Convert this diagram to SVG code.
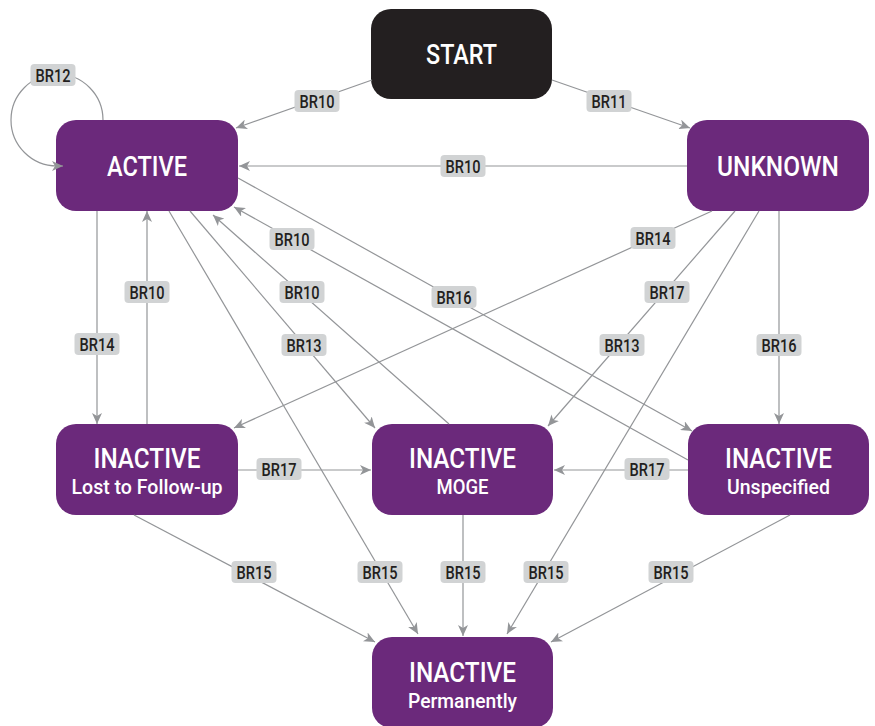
<svg xmlns="http://www.w3.org/2000/svg" width="875" height="726" viewBox="0 0 875 726">
<style>
.node{fill:#6b297b}
.start{fill:#231f20}
.nt{fill:#fff;font-family:Roboto,"Liberation Sans",sans-serif;font-weight:500;text-anchor:middle}
.big{font-size:27px}
.small{font-size:21px}
.e{fill:none;stroke:#939598;stroke-width:1.2;marker-end:url(#arr)}
.lb rect{fill:#d1d3d4}
.lb text{fill:#231f20;font-family:Roboto,"Liberation Sans",sans-serif;font-size:18px;font-weight:500;text-anchor:middle}
</style>
<defs>
<marker id="arr" viewBox="0 0 11 10" refX="11" refY="5" markerWidth="11" markerHeight="10" markerUnits="userSpaceOnUse" orient="auto">
<path d="M0,0 L11,5 L0,10 L3,5 z" fill="#939598"/>
</marker>
</defs>
<rect width="875" height="726" fill="#fff"/>
<g id="nodes">
<g id="start"><rect class="start" x="371" y="9" width="181" height="90" rx="20"/><text class="nt big" x="461.5" y="64" textLength="71" lengthAdjust="spacingAndGlyphs" font-size="28">START</text></g>
<g id="active"><rect class="node" x="56" y="120" width="182" height="91" rx="20"/><text class="nt big" x="147" y="176" textLength="80" lengthAdjust="spacingAndGlyphs">ACTIVE</text></g>
<g id="unknown"><rect class="node" x="687" y="120" width="182" height="91" rx="20"/><text class="nt big" x="778" y="176" textLength="122" lengthAdjust="spacingAndGlyphs">UNKNOWN</text></g>
<g id="ltfu"><rect class="node" x="56" y="424" width="182" height="91" rx="20"/><text class="nt big" x="147" y="468" textLength="107" lengthAdjust="spacingAndGlyphs">INACTIVE</text><text class="nt small" x="147" y="494" textLength="151" lengthAdjust="spacingAndGlyphs">Lost to Follow-up</text></g>
<g id="moge"><rect class="node" x="372" y="424" width="181" height="91" rx="20"/><text class="nt big" x="462.5" y="468" textLength="107" lengthAdjust="spacingAndGlyphs">INACTIVE</text><text class="nt small" x="462.5" y="494" textLength="52" lengthAdjust="spacingAndGlyphs">MOGE</text></g>
<g id="unspecified"><rect class="node" x="688" y="424" width="181" height="91" rx="20"/><text class="nt big" x="778.5" y="468" textLength="107" lengthAdjust="spacingAndGlyphs">INACTIVE</text><text class="nt small" x="778.5" y="494" textLength="103" lengthAdjust="spacingAndGlyphs">Unspecified</text></g>
<g id="permanently"><rect class="node" x="372" y="637" width="181" height="91" rx="20"/><text class="nt big" x="462.5" y="682" textLength="107" lengthAdjust="spacingAndGlyphs">INACTIVE</text><text class="nt small" x="462.5" y="708" textLength="109" lengthAdjust="spacingAndGlyphs">Permanently</text></g>
</g>
<g id="connectors">
<path class="e" d="M372,80 L236,128"/>
<path class="e" d="M552,80 L690,128"/>
<path class="e" d="M103,120 A46,46 0 1 0 57,166 L63,166"/>
<path class="e" d="M687,166 L239,166"/>
<path class="e" d="M97,211 L97,424"/>
<path class="e" d="M147,424 L147,211"/>
<path class="e" d="M712,211 L234,428"/>
<path class="e" d="M688,460 L234,207"/>
<path class="e" d="M238,178 L692,431"/>
<path class="e" d="M449,424 L213,215"/>
<path class="e" d="M190,211 L375,428"/>
<path class="e" d="M169,211 L418,634"/>
<path class="e" d="M759,211 L507,634"/>
<path class="e" d="M735,211 L548,426"/>
<path class="e" d="M779,211 L779,424"/>
<path class="e" d="M238,470 L371,470"/>
<path class="e" d="M688,470 L554,470"/>
<path class="e" d="M134,515 L375,642"/>
<path class="e" d="M463,515 L463,636"/>
<path class="e" d="M790,515 L551,642"/>
<g class="lb">
<rect x="30.5" y="64" width="45" height="22" rx="4"/><text x="53" y="81.5" textLength="35" lengthAdjust="spacingAndGlyphs">BR12</text>
<rect x="294.5" y="90" width="45" height="22" rx="4"/><text x="317" y="107.5" textLength="35" lengthAdjust="spacingAndGlyphs">BR10</text>
<rect x="586.5" y="90" width="45" height="22" rx="4"/><text x="609" y="107.5" textLength="35" lengthAdjust="spacingAndGlyphs">BR11</text>
<rect x="440.5" y="155" width="45" height="22" rx="4"/><text x="463" y="172.5" textLength="35" lengthAdjust="spacingAndGlyphs">BR10</text>
<rect x="74.5" y="333" width="45" height="22" rx="4"/><text x="97" y="350.5" textLength="35" lengthAdjust="spacingAndGlyphs">BR14</text>
<rect x="124.5" y="281" width="45" height="22" rx="4"/><text x="147" y="298.5" textLength="35" lengthAdjust="spacingAndGlyphs">BR10</text>
<rect x="269.5" y="228" width="45" height="22" rx="4"/><text x="292" y="245.5" textLength="35" lengthAdjust="spacingAndGlyphs">BR10</text>
<rect x="279.5" y="281" width="45" height="22" rx="4"/><text x="302" y="298.5" textLength="35" lengthAdjust="spacingAndGlyphs">BR10</text>
<rect x="281.5" y="334" width="45" height="22" rx="4"/><text x="304" y="351.5" textLength="35" lengthAdjust="spacingAndGlyphs">BR13</text>
<rect x="431.5" y="286" width="45" height="22" rx="4"/><text x="454" y="303.5" textLength="35" lengthAdjust="spacingAndGlyphs">BR16</text>
<rect x="630.5" y="227" width="45" height="22" rx="4"/><text x="653" y="244.5" textLength="35" lengthAdjust="spacingAndGlyphs">BR14</text>
<rect x="644.5" y="281" width="45" height="22" rx="4"/><text x="667" y="298.5" textLength="35" lengthAdjust="spacingAndGlyphs">BR17</text>
<rect x="599.5" y="334" width="45" height="22" rx="4"/><text x="622" y="351.5" textLength="35" lengthAdjust="spacingAndGlyphs">BR13</text>
<rect x="756.5" y="334" width="45" height="22" rx="4"/><text x="779" y="351.5" textLength="35" lengthAdjust="spacingAndGlyphs">BR16</text>
<rect x="256.5" y="458" width="45" height="22" rx="4"/><text x="279" y="475.5" textLength="35" lengthAdjust="spacingAndGlyphs">BR17</text>
<rect x="624.5" y="458" width="45" height="22" rx="4"/><text x="647" y="475.5" textLength="35" lengthAdjust="spacingAndGlyphs">BR17</text>
<rect x="231.5" y="561" width="45" height="22" rx="4"/><text x="254" y="578.5" textLength="35" lengthAdjust="spacingAndGlyphs">BR15</text>
<rect x="357.5" y="561" width="45" height="22" rx="4"/><text x="380" y="578.5" textLength="35" lengthAdjust="spacingAndGlyphs">BR15</text>
<rect x="440.5" y="561" width="45" height="22" rx="4"/><text x="463" y="578.5" textLength="35" lengthAdjust="spacingAndGlyphs">BR15</text>
<rect x="523.5" y="561" width="45" height="22" rx="4"/><text x="546" y="578.5" textLength="35" lengthAdjust="spacingAndGlyphs">BR15</text>
<rect x="648.5" y="561" width="45" height="22" rx="4"/><text x="671" y="578.5" textLength="35" lengthAdjust="spacingAndGlyphs">BR15</text>
</g>
</g>
</svg>
